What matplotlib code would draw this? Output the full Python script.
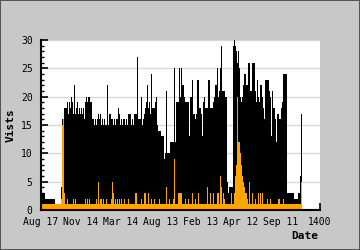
import numpy as np
import matplotlib
matplotlib.use("Agg")
import matplotlib.pyplot as plt
from matplotlib.ticker import MultipleLocator

# Daily visits (black = total, orange = second series)
black = [3,3,3,2,2,2,2,2,2,2,2,2,2,1,1,1,1,1,1,4,
         16,16,18,18,18,19,17,19,18,20,19,17,22,17,18,19,17,18,17,18,17,18,16,19,
         20,19,20,20,19,19, 16,16,15,16,15,16,17,16,17, 15,16,15,16,15,15, 22,
         15,17,17,16,16,15,16,15,16,16, 18,17, 15,16,15,16,16,15,16,15,17,17,17,
         15,16,15,17,17,17,27,16,16,16,20,15,16,17,18,19,22,18,19,17,24,18,18,18,
         19,20,15,14,14,14,13,13,13,9,10,21,10,10,10,12,12,12,12,25,12,
         19,19,19,25,20,20,25,22,22,20,19,19,19,19,13,20,20,23,17,17,16,17,23,23,
         18,18,17,13,19,20,18,18,18,23,23,18,18,18,19,20,22,22,25,20,21,
         25,29,21,21,21,20,20,5,3,4,4,4,4,29,30,29,28,26,28,25,20,19,20,22,24,24,
         22,22,26,26,21,21,26,26,26,21,19,23,20,19,22,22,20,18,16,
         23,23,23,23,21,20,13,21,18,18,16,12,17,17,16,16,18,19,24,24,24,24,
         3,3,3,3,3,3,3,2,2,2,2,3,3,6,17]
orange = [1,1,1,1,1,1,1,1,1,1,1,1,1,1,1,1,1,1,1,2,
          15,16,3,1,1,2,1,1,1,1,1,2,1,2,1,1,1,1,1,1,1,1,1,2,
          1,2,1,2, 1,1,1,1,1,1, 2,1,5,1,2,2,1,2,1,1,2, 1,1,1,1,
          2,5,3,1,2,1,2,1,2,1,2,1,1,2, 1,1,1, 2,1,1,
          1,1,1,1, 3,3, 1,1,1,1, 2,1,1,3,3,1,1,3,1,1,2,1,1,2, 1,1,1,1, 2,
          1,1,1,1,1,1, 4,1,1,2, 1,1,1, 2,9,1,
          1,1, 3,3,3,3,3, 1,1,1, 2,1,1,2, 1,1,1, 3,1,1,2,1,1,3,
          1,1,1,1,1,1,1,1, 4,1,1,3,1,1,3, 1,1,1, 3,3,1,
          6,4,1,3,2, 1,1,1,1,1, 1,3,1,1,3, 6,8,20,12,12, 10,8,6,5,4,
          3,3,2,1,5, 1,1,3,1,1, 2,1,1,3,1, 3,1,3,1,1,
          1,1,2,1,1,2, 1,1,1,1,1,1,1, 2,2, 1,1,1, 2,
          1,1,1,1,1,1,1,1,1,1,1,1,1,1,1,1, 1,5]

x_ticks = [0, 200, 400, 600, 800, 1000, 1200, 1400]
x_tick_labels = ["Aug 17", "Nov 14", "Mar 14", "Aug 13", "Feb 13", "Apr 12", "Sep 11", "1400"]
y_ticks = [0, 5, 10, 15, 20, 25, 30]

step = 5
xs = step * (np.arange(len(black)) + 1)

plt.rcParams['font.family'] = ['DejaVu Sans Mono']

fig = plt.figure(figsize=(3.6, 2.5), dpi=100, facecolor='#c8c8c8',
                 edgecolor='#555555', linewidth=1.2)
ax = fig.add_axes([41/360, 1-210/250, 279/360, 170/250])
ax.set_facecolor('white')

ax.bar(xs, black, width=step, align='edge', color='black', linewidth=0, antialiased=False, zorder=2)
ax.bar(xs, orange, width=step, align='edge', color='#ffa500', linewidth=0, antialiased=False, zorder=3)

ax.set_xlim(0, 1400)
ax.set_ylim(0, 30)
ax.set_xticks(x_ticks)
ax.set_xticklabels(x_tick_labels)
ax.set_yticks(y_ticks)
ax.yaxis.set_minor_locator(MultipleLocator(1))
ax.grid(axis='y', color='#d8d8d8', linewidth=1, zorder=0)
ax.set_axisbelow(True)

for s in ['top', 'right']:
    ax.spines[s].set_visible(False)
for s in ['left', 'bottom']:
    ax.spines[s].set_linewidth(1.5)
    ax.spines[s].set_zorder(5)

ax.tick_params(axis='both', which='major', direction='in', length=5, width=1.2,
               labelsize=7, colors='black', zorder=6)
ax.tick_params(axis='y', which='major', pad=6)
ax.tick_params(axis='x', which='major', pad=5)
ax.tick_params(axis='y', which='minor', direction='in', length=2.5, width=1)

fig.text(11/360, 1-125/250, "Vists", rotation=90, ha='center', va='center',
         fontsize=8, fontweight='bold')
fig.text(318/360, 1-236/250, "Date", ha='right', va='center',
         fontsize=8, fontweight='bold')

fig.savefig("out.png", dpi=100, facecolor=fig.get_facecolor(), edgecolor=fig.get_edgecolor())
